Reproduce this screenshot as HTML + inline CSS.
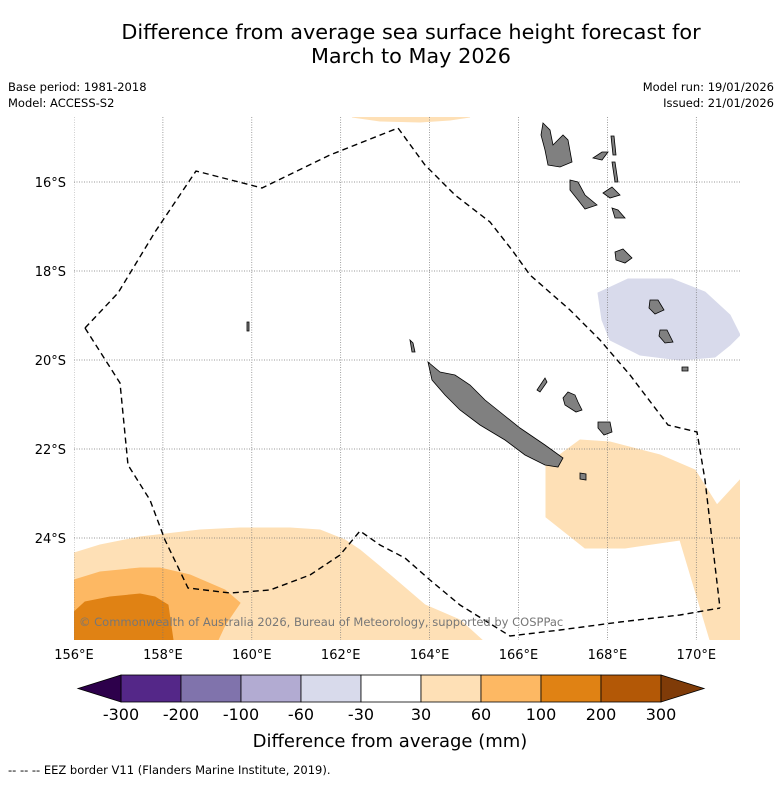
<!DOCTYPE html>
<html><head><meta charset="utf-8"><style>
body{margin:0;background:#fff;font-family:"Liberation Sans","DejaVu Sans",sans-serif}
svg text{font-family:"DejaVu Sans","Liberation Sans",sans-serif}
</style></head><body>
<svg id="c" width="781" height="781" viewBox="0 0 781 781" xmlns="http://www.w3.org/2000/svg">
<text x="411" y="39" font-size="20.8" text-anchor="middle">Difference from average sea surface height forecast for</text>
<text x="411" y="63" font-size="20.8" text-anchor="middle">March to May 2026</text>
<text x="8" y="91" font-size="11.5">Base period: 1981-2018</text>
<text x="8" y="107" font-size="11.5">Model: ACCESS-S2</text>
<text x="774" y="91" font-size="11.5" text-anchor="end">Model run: 19/01/2026</text>
<text x="774" y="107" font-size="11.5" text-anchor="end">Issued: 21/01/2026</text>
<defs><clipPath id="mc"><rect x="74" y="117" width="666" height="523"/></clipPath></defs>
<g id="map" clip-path="url(#mc)"></g>
<g id="axes"></g>
<g id="cbar"></g>
<text x="390" y="747" font-size="18" text-anchor="middle">Difference from average (mm)</text>
<text x="8" y="774" font-size="11.5">--  --  -- EEZ border V11 (Flanders Marine Institute, 2019).</text>
</svg>
<script>
// axis ticks
const lonTicks=[156,158,160,162,164,166,168,170];
const latTicks=[16,18,20,22,24];
// colorbar
const cbBounds=[-300,-200,-100,-60,-30,30,60,100,200,300];
const cbColors=["#542788","#8073ac","#b2abd2","#d8daeb","#ffffff","#fee0b6","#fdb863","#e08214","#b35806"];
const cbLow="#2d004b", cbHigh="#7f3b08";
// contour regions (map pixel geometry)
const regLight1=[[74,553],[100,545],[140,537],[200,530],[240,528],[290,528],[320,530],[345,540],[360,550],[390,575],[425,605],[460,620],[482,640],[74,640]];
const regLight2=[[546,465],[580,440],[610,442],[660,455],[695,470],[717,505],[740,480],[740,640],[710,640],[695,590],[680,540],[625,548],[585,548],[546,517]];
const regLight3=[[352,117],[380,121],[420,122],[450,120],[470,117]];
const regMed=[[74,580],[100,572],[140,568],[160,568],[190,575],[225,590],[240,603],[225,625],[218,640],[74,640]];
const regDark=[[74,612],[85,602],[110,597],[140,594],[155,597],[168,605],[173,640],[74,640]];
const regLav=[[598,293],[628,279],[672,279],[705,292],[730,315],[740,335],[730,345],[715,357],[680,360],[640,355],[610,340],[602,320]];
const eezA=[[85,328],[118,293],[155,232],[196,171],[262,188],[330,155],[398,128],[425,165],[455,195],[490,222],[512,250],[530,275],[570,310],[600,340],[630,375],[668,425],[697,432],[705,480],[712,540],[720,608]];
const eezB=[[85,328],[120,383],[128,465],[150,500],[165,540],[188,588],[230,593],[270,590],[310,575],[340,555],[360,531],[380,545],[405,558],[430,580],[460,605],[510,636],[560,630],[620,622],[680,615],[720,608]];
const islands=[
[[428,362],[440,372],[455,375],[470,385],[485,400],[500,412],[520,428],[545,445],[563,458],[558,467],[545,465],[525,455],[505,440],[480,425],[460,410],[445,395],[432,380]],
[[543,123],[550,130],[553,145],[563,135],[568,140],[572,162],[560,167],[548,165],[545,150],[541,135]],
[[570,180],[578,182],[585,195],[597,205],[585,209],[578,200],[570,190]],
[[593,158],[602,152],[608,152],[602,160]],
[[611,136],[614,136],[616,155],[613,155]],
[[612,162],[615,162],[618,182],[615,182]],
[[603,193],[612,187],[620,195],[610,198]],
[[612,208],[618,210],[625,218],[615,218]],
[[615,252],[623,249],[632,258],[625,263],[616,260]],
[[650,300],[658,300],[664,310],[655,314],[649,308]],
[[660,330],[667,330],[673,342],[665,343],[659,336]],
[[682,367],[688,367],[688,371],[682,371]],
[[568,392],[575,395],[578,402],[582,410],[576,412],[565,405],[563,398]],
[[598,422],[610,422],[612,432],[604,435],[598,428]],
[[537,390],[545,378],[547,382],[540,392]],
[[580,473],[586,474],[586,480],[580,479]],
[[247,322],[249,322],[249,331],[247,331]],
[[410,340],[413,343],[415,352],[412,352]]
];
const NS="http://www.w3.org/2000/svg";
const x0=74,x1=740,y0=117,y1=640;
function lonX(l){return 74+(l-156)*44.45;}
function latY(l){return 182+(l-16)*44.5;}
function cx(v){return 121+ (cbBounds.indexOf(v))*60;}
function mk(tag,attrs,parent){const e=document.createElementNS(NS,tag);for(const k in attrs)e.setAttribute(k,attrs[k]);parent.appendChild(e);return e;}
function pts(a){return a.map(p=>p[0]+","+p[1]).join(" ");}
const map=document.getElementById('map'), axes=document.getElementById('axes'), cb=document.getElementById('cbar');
function region(a,color,name){const e=mk('polygon',{points:pts(a),fill:color,stroke:color},map);

}
region(regLight1,cbColors[5],'contour-30-60-southwest');
region(regLight2,cbColors[5],'contour-30-60-east');
region(regLight3,cbColors[5],'contour-30-60-north');
region(regMed,cbColors[6],'contour-60-100');
region(regDark,cbColors[7],'contour-100-200');
region(regLav,cbColors[3],'contour-neg30-neg60');
lonTicks.forEach(l=>{const X=lonX(l);
const g=mk('line',{x1:X,y1:y0,x2:X,y2:y1,stroke:'#777','stroke-width':0.7,'stroke-dasharray':'1,1.5'},map);


const t=mk('text',{x:X,y:659,'font-size':13,'text-anchor':'middle'},axes);t.textContent=l+'°E';

});
latTicks.forEach(l=>{const Y=latY(l);
const g=mk('line',{x1:x0,y1:Y,x2:x1,y2:Y,stroke:'#777','stroke-width':0.7,'stroke-dasharray':'1,1.5'},map);


const t=mk('text',{x:66,y:Y+5,'font-size':13,'text-anchor':'end'},axes);t.textContent=l+'°S';

});
islands.forEach((a,i)=>{const e=mk('polygon',{points:pts(a),fill:'#808080',stroke:'#000','stroke-width':0.8},map);

});
[eezA,eezB].forEach(a=>{const e=mk('polyline',{points:pts(a),fill:'none',stroke:'#000','stroke-width':1.4,'stroke-dasharray':'6,4'},map);

});
const cr=mk('text',{x:79,y:626,'font-size':11.5,fill:'#777'},map);cr.textContent='© Commonwealth of Australia 2026, Bureau of Meteorology, supported by COSPPac';


const cy0=675,cy1=702;
cbColors.forEach((c,i)=>{const a=cx(cbBounds[i]),b=cx(cbBounds[i+1]);
const r=mk('rect',{x:a,y:cy0,width:b-a,height:cy1-cy0,fill:c,stroke:'#000','stroke-width':0.8},cb);

});
const lt=mk('polygon',{points:`${cx(cbBounds[0])},${cy0} 78,${(cy0+cy1)/2} ${cx(cbBounds[0])},${cy1}`,fill:cbLow,stroke:'#000','stroke-width':0.8},cb);


const last=cx(cbBounds[cbBounds.length-1]);
const rt=mk('polygon',{points:`${last},${cy0} 704,${(cy0+cy1)/2} ${last},${cy1}`,fill:cbHigh,stroke:'#000','stroke-width':0.8},cb);


cbBounds.forEach(v=>{const t=mk('text',{x:cx(v),y:720,'font-size':16,'text-anchor':'middle'},cb);t.textContent=v;

});
</script>
</body></html>
